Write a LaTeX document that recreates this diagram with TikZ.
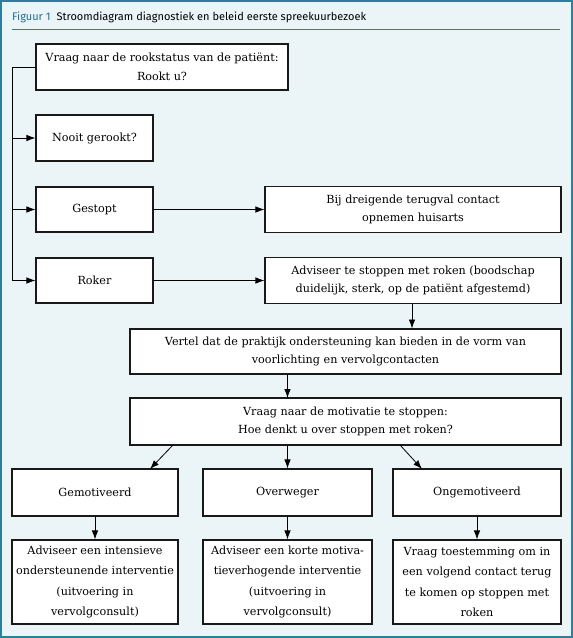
\documentclass[tikz,border=0pt]{standalone}
\usepackage{fontspec}
\setmainfont{DejaVu Serif}
\newfontfamily\titlefont{Fira Sans}
\usetikzlibrary{arrows.meta}
\definecolor{bgblue}{HTML}{EBF4F7}
\definecolor{frameteal}{HTML}{2F7E9B}
\definecolor{titleteal}{HTML}{1E6E8E}
\tikzset{
  box/.style={draw=black!90, line width=1.1pt, fill=white, inner sep=2pt, align=center,
    font=\fontsize{11.2}{18.5}\selectfont},
  tallbox/.style={box, font=\fontsize{11.2}{20.5}\selectfont},
  conn/.style={draw=black, line width=0.8pt, -{Latex[length=9pt,width=6.5pt]}},
  plain/.style={draw=black, line width=0.8pt}
}
\begin{document}
\begin{tikzpicture}[x=1pt,y=-1pt]
\useasboundingbox (0,0) rectangle (573,638);
\fill[bgblue] (0,0) rectangle (573,638);
\draw[frameteal, line width=2pt] (1,1) rectangle (572,637);
\node[anchor=base west, inner sep=0pt, font=\titlefont\fontsize{11}{13}\selectfont] (title) at (12,20)
  {\textcolor{titleteal}{Figuur 1}\hspace{6pt}Stroomdiagram diagnostiek en beleid eerste spreekuurbezoek};
\coordinate (tl) at (12,29);
\coordinate (tr) at (560,29);
\draw[frameteal, line width=0.9pt] (tl) -- (tr);

\node[box, minimum width=252pt, minimum height=46pt] (q1) at (162,67)
  {Vraag naar de rookstatus van de patiënt:\\Rookt u?};
\node[box, minimum width=117pt, minimum height=46pt] (nooit) at (94.5,138) {Nooit gerookt?};
\node[box, minimum width=117pt, minimum height=45pt] (gestopt) at (94.5,209.5) {Gestopt};
\node[box, minimum width=117pt, minimum height=45pt] (roker) at (94.5,280.5) {Roker};
\node[box, minimum width=296pt, minimum height=46pt] (bij) at (413,209.5)
  {Bij dreigende terugval contact\\opnemen huisarts};
\node[box, minimum width=296pt, minimum height=46pt] (adv) at (413,280.5)
  {Adviseer te stoppen met roken (boodschap\\duidelijk, sterk, op de patiënt afgestemd)};
\node[box, minimum width=431pt, minimum height=45pt] (vertel) at (345.5,351.5)
  {Vertel dat de praktijk ondersteuning kan bieden in de vorm van\\voorlichting en vervolgcontacten};
\node[box, minimum width=431pt, minimum height=47pt] (motiv) at (345.5,421.5)
  {Vraag naar de motivatie te stoppen:\\Hoe denkt u over stoppen met roken?};
\node[box, minimum width=166pt, minimum height=47pt] (gem) at (95,492.5) {Gemotiveerd};
\node[box, minimum width=169pt, minimum height=47pt] (over) at (287.5,492.5) {Overweger};
\node[box, minimum width=168pt, minimum height=47pt] (ong) at (477,492.5) {Ongemotiveerd};
\node[tallbox, minimum width=166pt, minimum height=84pt] (b1) at (95,582)
  {Adviseer een intensieve\\ondersteunende interventie\\(uitvoering in\\vervolgconsult)};
\node[tallbox, minimum width=169pt, minimum height=84pt] (b2) at (287.5,582)
  {Adviseer een korte motiva-\\tieverhogende interventie\\(uitvoering in\\vervolgconsult)};
\node[tallbox, minimum width=168pt, minimum height=84pt] (b3) at (477,582)
  {Vraag toestemming om in\\een volgend contact terug\\te komen op stoppen met\\roken};

% left branching line
\coordinate (lt) at (12,67);
\coordinate (lb) at (12,280.5);
\draw[plain] (q1.west) -- (lt) -- (lb);
\draw[conn] (12,138) -- (nooit.west);
\draw[conn] (12,209.5) -- (gestopt.west);
\draw[conn] (lb) -- (roker.west);

\draw[conn] (gestopt.east) -- (bij.west);
\draw[conn] (roker.east) -- (adv.west);
\draw[conn] (412,303.5) -- (412,328.5);
\draw[conn] (287.5,374) -- (287.5,398);
\draw[conn] (173,445) -- (150,469);
\draw[conn] (motiv.south -| over.north) -- (over.north);
\draw[conn] (400,445) -- (422,469);
\draw[conn] (gem.south) -- (b1.north);
\draw[conn] (over.south) -- (b2.north);
\draw[conn] (ong.south) -- (b3.north);
\end{tikzpicture}
\end{document}
